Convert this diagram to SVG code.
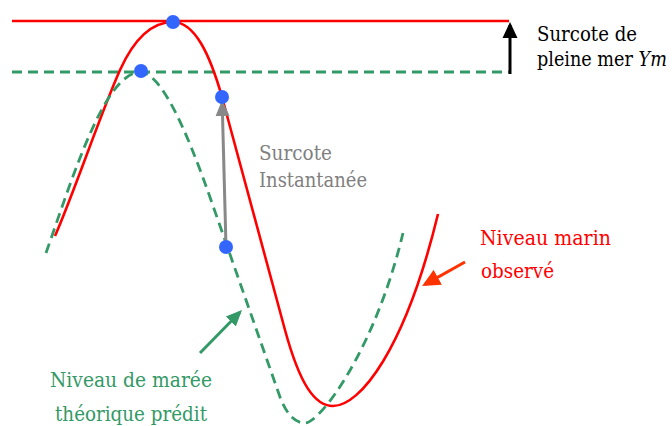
<svg xmlns="http://www.w3.org/2000/svg" width="672" height="426" viewBox="0 0 672 426">
<style>
text{font-family:"DejaVu Serif",serif;font-size:21px}
.red{fill:none;stroke:#ff0000;stroke-width:2.6}
.grn{fill:none;stroke:#339966;stroke-width:2.8;stroke-dasharray:10 6}
.dot{fill:#3366ff}
</style>
<defs>
<marker id="hBlack" markerUnits="userSpaceOnUse" markerWidth="16" markerHeight="16" refX="13" refY="8" orient="auto" viewBox="0 0 16 16"><path d="M0,0.5 L16,8 L0,15.5 z" fill="#000"/></marker>
<marker id="hGray" markerUnits="userSpaceOnUse" markerWidth="16" markerHeight="16" refX="13" refY="8" orient="auto" viewBox="0 0 16 16"><path d="M0,1 L16,8 L0,15 z" fill="#888888"/></marker>
<marker id="hRed" markerUnits="userSpaceOnUse" markerWidth="18" markerHeight="18" refX="15" refY="9" orient="auto" viewBox="0 0 18 18"><path d="M0,0.5 L18,9 L0,17.5 z" fill="#ff3300"/></marker>
<marker id="hGreen" markerUnits="userSpaceOnUse" markerWidth="16" markerHeight="16" refX="13" refY="8" orient="auto" viewBox="0 0 16 16"><path d="M0,1 L16,8 L0,15 z" fill="#339966"/></marker>
</defs>
<g id="reference-lines">
<line x1="12" y1="21" x2="509" y2="21" stroke="#ff0000" stroke-width="2.6"/>
<line x1="12" y1="72" x2="510" y2="72" class="grn"/>
</g>
<g id="curve-observed">
<path class="red" d="M55,236 C75,190 100,115 120,70 C135,37 152,22 173,22 C195,22 210,55 222,97 L285,330 C300,385 315,406 333,406 C360,406 405,350 438,214"/>
</g>
<g id="curve-predicted">
<path class="grn" d="M46,253 C75,170 105,74 140,72 C160,72 185,125 212,203 L280,397 C287,415 295,423 305,423 C320,423 375,350 403,233"/>
</g>
<g id="connectors">
<line x1="510" y1="74" x2="510" y2="25" stroke="#000" stroke-width="3" marker-end="url(#hBlack)"/>
<line x1="226" y1="247" x2="222.2" y2="103" stroke="#888888" stroke-width="3" marker-end="url(#hGray)"/>
<line x1="465" y1="262" x2="424.7" y2="284.6" stroke="#ff3300" stroke-width="3" marker-end="url(#hRed)"/>
<line x1="200" y1="353" x2="239.9" y2="312.2" stroke="#339966" stroke-width="3" marker-end="url(#hGreen)"/>
</g>
<g id="points">
<circle class="dot" cx="173" cy="22" r="7"/>
<circle class="dot" cx="141" cy="71" r="7"/>
<circle class="dot" cx="222" cy="97" r="7"/>
<circle class="dot" cx="226" cy="247" r="7"/>
</g>
<g id="label-surcote-pm">
<text x="537" y="41" fill="#000" textLength="100" lengthAdjust="spacingAndGlyphs">Surcote de</text>
<g transform="translate(537,66) scale(0.84,1)">
<text x="0" y="0" fill="#000">pleine mer <tspan font-style="italic">Ym</tspan></text>
</g>
</g>
<g id="label-surcote-inst">
<text x="259" y="160" fill="#808080" textLength="73" lengthAdjust="spacingAndGlyphs">Surcote</text>
<text x="259" y="187" fill="#808080" textLength="108" lengthAdjust="spacingAndGlyphs">Instantanée</text>
</g>
<g id="label-observed">
<text x="480" y="245" fill="#ff0000" textLength="131" lengthAdjust="spacingAndGlyphs">Niveau marin</text>
<text x="481" y="278" fill="#ff0000" textLength="73" lengthAdjust="spacingAndGlyphs">observé</text>
</g>
<g id="label-predicted">
<text x="50" y="387" fill="#339966" textLength="162" lengthAdjust="spacingAndGlyphs">Niveau de marée</text>
<text x="55" y="421" fill="#339966" textLength="152" lengthAdjust="spacingAndGlyphs">théorique prédit</text>
</g>
</svg>
